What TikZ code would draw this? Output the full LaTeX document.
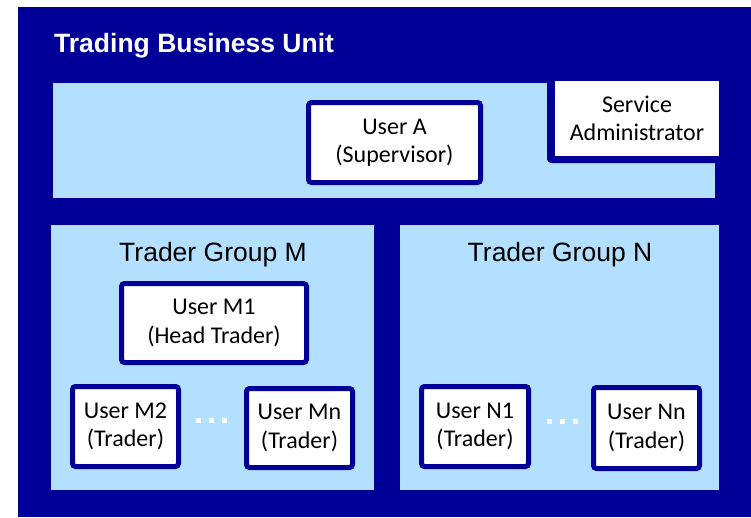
\documentclass[tikz,border=0pt]{standalone}
\usepackage{fontspec}
\setmainfont{Carlito}
\newfontfamily\arialfont{Liberation Sans}
\definecolor{dkblue}{RGB}{0,0,153}
\definecolor{ltblue}{RGB}{180,224,255}
\newcommand{\sqdot}{\rule{5pt}{5pt}}
\begin{document}
\begin{tikzpicture}[x=1pt,y=-1pt,
  userbox/.style={draw=dkblue, line width=5pt, fill=white, rounded corners=3pt,
    align=center, inner sep=0pt, font=\fontsize{24}{28.5}\selectfont, text=black},
  grouplabel/.style={font=\arialfont\fontsize{26.5}{30}\selectfont, text=black, inner sep=0pt, anchor=base},
  dotsnode/.style={text=white, inner sep=0pt, font=\fontsize{5}{5}\selectfont}
]
\useasboundingbox (0,0) rectangle (751,517);
\fill[white] (0,0) rectangle (751,517);
% outer unit
\fill[dkblue] (18,7) rectangle (751,517);
\node[anchor=base west, inner sep=0pt, text=white, font=\arialfont\bfseries\fontsize{26.5}{30}\selectfont] (title) at (54,52) {Trading Business Unit};
% top panel
\fill[ltblue] (53,83) rectangle (715,198);
\fill[dkblue, rounded corners=4pt] (547,72) rectangle (751,163);
\node[fill=white, minimum width=164pt, minimum height=75pt, inner sep=0pt, align=center,
  font=\fontsize{24}{28}\selectfont, text=black] (admin) at (637,118.5) {Service\\Administrator};
\node[userbox, minimum width=172pt, minimum height=80pt] (usera) at (394.5,142.5) {User A\\(Supervisor)};
% group panels
\fill[ltblue] (51,225) rectangle (374,490);
\fill[ltblue] (400,225) rectangle (719,490);
\node[grouplabel] (gm) at (213,261) {Trader Group M};
\node[grouplabel] (gn) at (560,261) {Trader Group N};
% group M users
\node[userbox, minimum width=185pt, minimum height=79pt] (m1) at (214,323) {User M1\\(Head Trader)};
\node[userbox, minimum width=106pt, minimum height=80pt] (m2) at (125.5,426.5) {User M2\\(Trader)};
\node[userbox, minimum width=106pt, minimum height=79pt] (mn) at (299.5,428) {User Mn\\(Trader)};
\node[dotsnode] (dotsm) at (211.5,420) {\sqdot\hspace{8pt}\sqdot\hspace{8pt}\sqdot};
% group N users
\node[userbox, minimum width=107pt, minimum height=80pt] (n1) at (475,426.5) {User N1\\(Trader)};
\node[userbox, minimum width=106pt, minimum height=81pt] (nn) at (646.5,428) {User Nn\\(Trader)};
\node[dotsnode] (dotsn) at (562,421) {\sqdot\hspace{8pt}\sqdot\hspace{8pt}\sqdot};
\end{tikzpicture}
\end{document}
